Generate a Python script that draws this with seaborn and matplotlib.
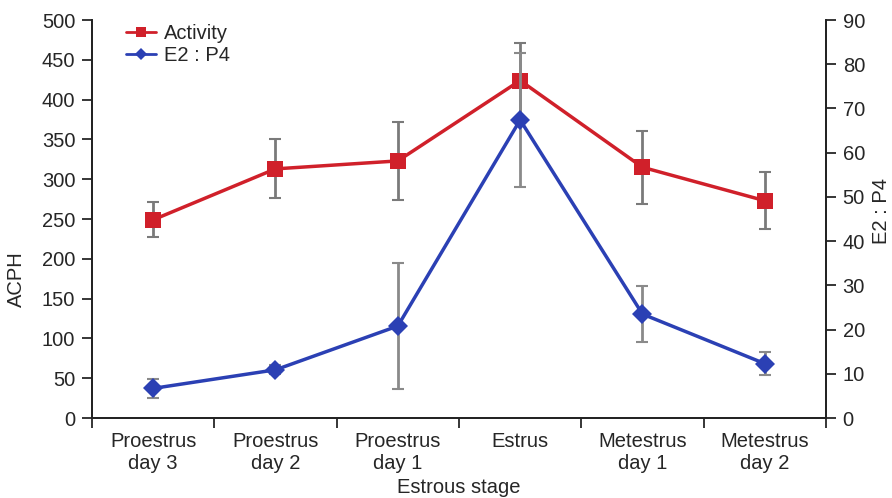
import numpy as np
import pandas as pd
import seaborn as sns
import matplotlib.pyplot as plt
from matplotlib.ticker import FixedLocator, NullFormatter

# data
stages = ["Proestrus\nday 3", "Proestrus\nday 2", "Proestrus\nday 1",
          "Estrus", "Metestrus\nday 1", "Metestrus\nday 2"]
activity = [249, 313, 323, 424, 315, 273]
activity_err = [22, 37, 49, 47, 46, 36]
e2p4 = [6.7, 10.9, 20.8, 67.4, 23.5, 12.3]
e2p4_err = [2.1, 1.0, 14.3, 15.2, 6.4, 2.6]

sns.set_style("ticks")
plt.rcParams['font.family'] = ['Liberation Sans', 'DejaVu Sans']
fs = 14.5

red = "#d0202a"
blue = "#2b40b4"

pos = np.arange(len(stages))
df = pd.DataFrame({"pos": pos, "activity": activity, "e2p4": e2p4})

fig = plt.figure(figsize=(8.92, 4.98), dpi=100)
ax = fig.add_axes([0.1031, 0.1606, 0.8229, 0.7992])
ax2 = ax.twinx()

# error bars
ax.errorbar(pos, activity, yerr=activity_err, fmt="none", ecolor="#7a7a7a",
            elinewidth=2, capsize=4, capthick=1.5, zorder=1)
ax2.errorbar(pos, e2p4, yerr=e2p4_err, fmt="none", ecolor="#8a8a8a",
             elinewidth=2, capsize=4, capthick=1.5, zorder=1)

sns.lineplot(data=df, x="pos", y="activity", ax=ax, color=red, lw=2.5,
             marker="s", markersize=11, markeredgewidth=0, label="Activity",
             legend=False, zorder=3)
sns.lineplot(data=df, x="pos", y="e2p4", ax=ax2, color=blue, lw=2.5,
             marker="D", markersize=10, markeredgewidth=0, label="E2 : P4",
             legend=False, zorder=3)

ax.set_xlim(-0.5, len(stages) - 0.5)
ax.set_ylim(0, 500)
ax2.set_ylim(0, 90)
ax.set_yticks(np.arange(0, 501, 50))
ax2.set_yticks(np.arange(0, 91, 10))

# category boundaries as ticks, labels in the middle
ax.xaxis.set_major_locator(FixedLocator(np.arange(-0.5, len(stages), 1)))
ax.xaxis.set_major_formatter(NullFormatter())
ax.xaxis.set_minor_locator(FixedLocator(pos))
ax.set_xticklabels(stages, minor=True)
ax.tick_params(axis="x", which="minor", length=0, pad=10, labelsize=fs)
ax.tick_params(axis="x", which="major", length=7, width=1.3, direction="out")
ax.tick_params(axis="y", length=7, width=1.3, direction="out", labelsize=fs, pad=5)
ax2.tick_params(axis="y", length=7, width=1.3, direction="out", labelsize=fs, pad=5)

for a in (ax, ax2):
    a.spines["top"].set_visible(False)
    for s in ("left", "right", "bottom"):
        a.spines[s].set_linewidth(1.3)
        a.spines[s].set_color("#222222")

ax.set_xlabel("Estrous stage", fontsize=fs, labelpad=4)
ax.set_ylabel("ACPH", fontsize=fs)
ax.yaxis.set_label_coords(-0.09, 0.35)
ax2.set_ylabel("E2 : P4", fontsize=fs)
ax2.yaxis.set_label_coords(1.063, 0.52)

h1, l1 = ax.get_legend_handles_labels()
h2, l2 = ax2.get_legend_handles_labels()
leg = ax.legend(h1 + h2, l1 + l2, loc="upper left", bbox_to_anchor=(0.035, 1.01),
                frameon=False, fontsize=fs, handlelength=1.5, handletextpad=0.4,
                labelspacing=0.15, borderaxespad=0, markerscale=0.65)
for line in leg.get_lines():
    line.set_linewidth(2)

fig.savefig("out.png", dpi=100)
